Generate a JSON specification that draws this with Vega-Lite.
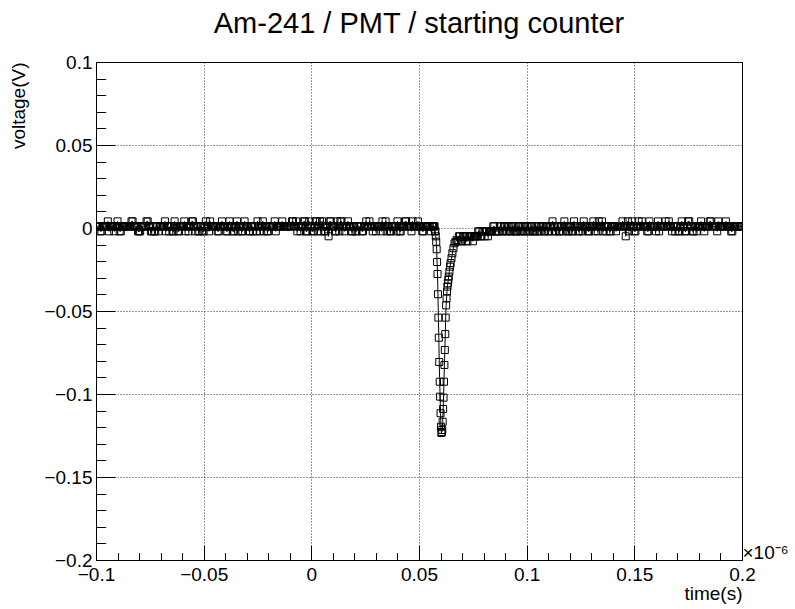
{
"$schema": "https://vega.github.io/schema/vega-lite/v6.json",
"width": 646,
"height": 498,
"autosize": {"type": "none"},
"padding": {"left": 96, "top": 62, "right": 53, "bottom": 49},
"background": "white",
"title": {"text": "Am-241 / PMT / starting counter", "font": "Liberation Sans", "fontSize": 29, "fontWeight": "normal", "color": "#000", "anchor": "middle", "baseline": "alphabetic", "offset": 25, "dy": 34},
"config": {"view": {"stroke": "#000", "strokeWidth": 1}, "axis": {"tickColor": "#000", "labelColor": "#000", "titleColor": "#000", "labelFont": "Liberation Sans", "titleFont": "Liberation Sans", "labelFontSize": 19, "titleFontSize": 19, "titleFontWeight": "normal", "labelOverlap": false, "labelFlush": false, "labelBound": false}},
"data": {"values": [
{"t":-0.1,"v":0.001},{"t":-0.099,"v":0.001},{"t":-0.098,"v":-0.002},{"t":-0.097,"v":0.001},{"t":-0.096,"v":0.001},{"t":-0.095,"v":0.001},{"t":-0.094,"v":-0.002},{"t":-0.093,"v":0.001},{"t":-0.092,"v":0.001},{"t":-0.091,"v":0.001},
{"t":-0.09,"v":0.004},{"t":-0.089,"v":-0.002},{"t":-0.088,"v":0.001},{"t":-0.087,"v":0.001},{"t":-0.086,"v":0.001},{"t":-0.085,"v":0.001},{"t":-0.084,"v":0.001},{"t":-0.083,"v":0.004},{"t":-0.082,"v":0.001},{"t":-0.081,"v":0.001},
{"t":-0.08,"v":-0.002},{"t":-0.079,"v":0.001},{"t":-0.078,"v":0.001},{"t":-0.077,"v":0.001},{"t":-0.076,"v":0.004},{"t":-0.075,"v":0.001},{"t":-0.074,"v":-0.002},{"t":-0.073,"v":-0.002},{"t":-0.072,"v":0.001},{"t":-0.071,"v":-0.002},
{"t":-0.07,"v":0.001},{"t":-0.069,"v":0.001},{"t":-0.068,"v":0.004},{"t":-0.067,"v":0.001},{"t":-0.066,"v":-0.002},{"t":-0.065,"v":0.001},{"t":-0.064,"v":-0.002},{"t":-0.063,"v":0.001},{"t":-0.062,"v":-0.002},{"t":-0.061,"v":0.001},
{"t":-0.06,"v":0.001},{"t":-0.059,"v":0.004},{"t":-0.058,"v":0.001},{"t":-0.057,"v":-0.002},{"t":-0.056,"v":0.001},{"t":-0.055,"v":0.004},{"t":-0.054,"v":-0.002},{"t":-0.053,"v":0.001},{"t":-0.052,"v":-0.002},{"t":-0.051,"v":0.001},
{"t":-0.05,"v":-0.002},{"t":-0.049,"v":0.004},{"t":-0.048,"v":0.001},{"t":-0.047,"v":0.004},{"t":-0.046,"v":0.001},{"t":-0.045,"v":0.001},{"t":-0.044,"v":0.001},{"t":-0.043,"v":-0.002},{"t":-0.042,"v":0.001},{"t":-0.041,"v":0.001},
{"t":-0.04,"v":0.001},{"t":-0.039,"v":-0.002},{"t":-0.038,"v":0.004},{"t":-0.037,"v":0.001},{"t":-0.036,"v":-0.002},{"t":-0.035,"v":0.001},{"t":-0.034,"v":-0.002},{"t":-0.033,"v":0.001},{"t":-0.032,"v":-0.002},{"t":-0.031,"v":0.004},
{"t":-0.03,"v":0.001},{"t":-0.029,"v":-0.002},{"t":-0.028,"v":0.001},{"t":-0.027,"v":-0.002},{"t":-0.026,"v":0.001},{"t":-0.025,"v":0.004},{"t":-0.024,"v":-0.002},{"t":-0.023,"v":0.001},{"t":-0.022,"v":-0.002},{"t":-0.021,"v":0.001},
{"t":-0.02,"v":-0.002},{"t":-0.019,"v":0.001},{"t":-0.018,"v":0.001},{"t":-0.017,"v":0.004},{"t":-0.016,"v":0.001},{"t":-0.015,"v":0.001},{"t":-0.014,"v":0.001},{"t":-0.013,"v":0.001},{"t":-0.012,"v":0.001},{"t":-0.011,"v":0.001},
{"t":-0.01,"v":0.001},{"t":-0.009,"v":0.004},{"t":-0.008,"v":0.001},{"t":-0.007,"v":0.004},{"t":-0.006,"v":0.001},{"t":-0.005,"v":-0.002},{"t":-0.004,"v":0.001},{"t":-0.003,"v":0.004},{"t":-0.002,"v":-0.002},{"t":-0.001,"v":0.004},
{"t":0,"v":0.001},{"t":0.001,"v":-0.002},{"t":0.002,"v":0.004},{"t":0.003,"v":-0.002},{"t":0.004,"v":0.004},{"t":0.005,"v":0.004},{"t":0.006,"v":-0.002},{"t":0.007,"v":0.001},{"t":0.008,"v":-0.005},{"t":0.009,"v":0.004},
{"t":0.01,"v":0.001},{"t":0.011,"v":-0.002},{"t":0.012,"v":0.004},{"t":0.013,"v":-0.002},{"t":0.014,"v":0.004},{"t":0.015,"v":0.001},{"t":0.016,"v":0.001},{"t":0.017,"v":0.004},{"t":0.018,"v":0.001},{"t":0.019,"v":-0.002},
{"t":0.02,"v":0.001},{"t":0.021,"v":-0.002},{"t":0.022,"v":0.001},{"t":0.023,"v":0.001},{"t":0.024,"v":-0.002},{"t":0.025,"v":0.001},{"t":0.026,"v":0.001},{"t":0.027,"v":0.004},{"t":0.028,"v":0.001},{"t":0.029,"v":0.001},
{"t":0.03,"v":-0.002},{"t":0.031,"v":0.001},{"t":0.032,"v":0.001},{"t":0.033,"v":0.004},{"t":0.034,"v":0.001},{"t":0.035,"v":-0.002},{"t":0.036,"v":0.001},{"t":0.037,"v":-0.002},{"t":0.038,"v":0.001},{"t":0.039,"v":0.001},
{"t":0.04,"v":0.004},{"t":0.041,"v":-0.002},{"t":0.042,"v":0.001},{"t":0.043,"v":0.001},{"t":0.044,"v":0.004},{"t":0.045,"v":0.001},{"t":0.046,"v":0.001},{"t":0.047,"v":0.004},{"t":0.048,"v":0.001},{"t":0.049,"v":0.001},
{"t":0.05,"v":0.001},{"t":0.051,"v":0.001},{"t":0.052,"v":-0.002},{"t":0.053,"v":0.001},{"t":0.054,"v":0.001},{"t":0.055,"v":0.001},{"t":0.056,"v":0.001},
{"t":-0.0995,"v":0.001},{"t":-0.0985,"v":0.001},{"t":-0.0975,"v":-0.002},{"t":-0.0965,"v":0.001},{"t":-0.0955,"v":0.001},{"t":-0.0945,"v":0.004},{"t":-0.0935,"v":0.001},{"t":-0.0925,"v":0.001},{"t":-0.0915,"v":-0.002},{"t":-0.0905,"v":0.001},
{"t":-0.0895,"v":0.001},{"t":-0.0885,"v":-0.002},{"t":-0.0875,"v":0.001},{"t":-0.0865,"v":0.001},{"t":-0.0855,"v":0.001},{"t":-0.0845,"v":0.001},{"t":-0.0835,"v":0.004},{"t":-0.0825,"v":0.001},{"t":-0.0815,"v":0.001},{"t":-0.0805,"v":-0.002},
{"t":-0.0795,"v":-0.002},{"t":-0.0785,"v":0.001},{"t":-0.0775,"v":0.001},{"t":-0.0765,"v":0.004},{"t":-0.0755,"v":0.001},{"t":-0.0745,"v":-0.002},{"t":-0.0735,"v":0.001},{"t":-0.0725,"v":-0.002},{"t":-0.0715,"v":0.001},{"t":-0.0705,"v":0.001},
{"t":-0.0695,"v":0.001},{"t":-0.0685,"v":0.001},{"t":-0.0675,"v":-0.002},{"t":-0.0665,"v":0.001},{"t":-0.0655,"v":0.001},{"t":-0.0645,"v":-0.002},{"t":-0.0635,"v":0.004},{"t":-0.0625,"v":0.001},{"t":-0.0615,"v":-0.002},{"t":-0.0605,"v":0.001},
{"t":-0.0595,"v":0.001},{"t":-0.0585,"v":-0.002},{"t":-0.0575,"v":0.001},{"t":-0.0565,"v":0.001},{"t":-0.0555,"v":0.004},{"t":-0.0545,"v":0.001},{"t":-0.0535,"v":0.001},{"t":-0.0525,"v":-0.002},{"t":-0.0515,"v":0.001},{"t":-0.0505,"v":-0.002},
{"t":-0.0495,"v":0.001},{"t":-0.0485,"v":0.001},{"t":-0.0475,"v":-0.002},{"t":-0.0465,"v":0.001},{"t":-0.0455,"v":0.001},{"t":-0.0445,"v":0.001},{"t":-0.0435,"v":-0.002},{"t":-0.0425,"v":0.001},{"t":-0.0415,"v":0.004},{"t":-0.0405,"v":0.001},
{"t":-0.0395,"v":-0.002},{"t":-0.0385,"v":0.001},{"t":-0.0375,"v":0.001},{"t":-0.0365,"v":-0.002},{"t":-0.0355,"v":0.001},{"t":-0.0345,"v":0.004},{"t":-0.0335,"v":0.001},{"t":-0.0325,"v":-0.002},{"t":-0.0315,"v":0.001},{"t":-0.0305,"v":0.001},
{"t":-0.0295,"v":0.001},{"t":-0.0285,"v":-0.002},{"t":-0.0275,"v":0.001},{"t":-0.0265,"v":0.001},{"t":-0.0255,"v":-0.002},{"t":-0.0245,"v":0.001},{"t":-0.0235,"v":0.001},{"t":-0.0225,"v":0.004},{"t":-0.0215,"v":0.001},{"t":-0.0205,"v":-0.002},
{"t":-0.0195,"v":0.001},{"t":-0.0185,"v":0.001},{"t":-0.0175,"v":0.001},{"t":-0.0165,"v":-0.002},{"t":-0.0155,"v":0.001},{"t":-0.0145,"v":0.001},{"t":-0.0135,"v":0.004},{"t":-0.0125,"v":0.001},{"t":-0.0115,"v":0.001},{"t":-0.0105,"v":0.001},
{"t":-0.0095,"v":0.001},{"t":-0.0085,"v":0.004},{"t":-0.0075,"v":0.001},{"t":-0.0065,"v":-0.002},{"t":-0.0055,"v":0.001},{"t":-0.0045,"v":0.001},{"t":-0.0035,"v":0.004},{"t":-0.0025,"v":-0.002},{"t":-0.0015,"v":0.001},{"t":-0.0005,"v":0.001},
{"t":0.0005,"v":-0.002},{"t":0.0015,"v":0.001},{"t":0.0025,"v":0.004},{"t":0.0035,"v":0.001},{"t":0.0045,"v":-0.002},{"t":0.0055,"v":0.001},{"t":0.0065,"v":-0.002},{"t":0.0075,"v":0.001},{"t":0.0085,"v":0.004},{"t":0.0095,"v":0.001},
{"t":0.0105,"v":0.001},{"t":0.0115,"v":-0.002},{"t":0.0125,"v":0.001},{"t":0.0135,"v":0.004},{"t":0.0145,"v":0.001},{"t":0.0155,"v":-0.002},{"t":0.0165,"v":0.001},{"t":0.0175,"v":0.001},{"t":0.0185,"v":-0.002},{"t":0.0195,"v":0.001},
{"t":0.0205,"v":-0.002},{"t":0.0215,"v":0.001},{"t":0.0225,"v":0.001},{"t":0.0235,"v":-0.002},{"t":0.0245,"v":0.001},{"t":0.0255,"v":0.004},{"t":0.0265,"v":0.001},{"t":0.0275,"v":0.001},{"t":0.0285,"v":-0.002},{"t":0.0295,"v":0.001},
{"t":0.0305,"v":0.001},{"t":0.0315,"v":0.001},{"t":0.0325,"v":-0.002},{"t":0.0335,"v":0.001},{"t":0.0345,"v":0.004},{"t":0.0355,"v":0.001},{"t":0.0365,"v":-0.002},{"t":0.0375,"v":0.001},{"t":0.0385,"v":0.001},{"t":0.0395,"v":-0.002},
{"t":0.0405,"v":0.001},{"t":0.0415,"v":-0.002},{"t":0.0425,"v":0.001},{"t":0.0435,"v":0.004},{"t":0.0445,"v":0.001},{"t":0.0455,"v":0.001},{"t":0.0465,"v":-0.002},{"t":0.0475,"v":0.001},{"t":0.0485,"v":0.001},{"t":0.0495,"v":0.004},
{"t":0.0505,"v":0.001},{"t":0.0515,"v":-0.002},{"t":0.0525,"v":0.001},{"t":0.0535,"v":0.001},{"t":0.0545,"v":0.001},{"t":0.0555,"v":-0.002},{"t":0.0565,"v":0.001},
{"t":0.057,"v":0.001},{"t":0.0572,"v":0.001},{"t":0.0574,"v":-0.002},{"t":0.0576,"v":-0.002},{"t":0.0578,"v":-0.005},{"t":0.058,"v":-0.0083},{"t":0.0582,"v":-0.0128},{"t":0.0584,"v":-0.0205},{"t":0.0586,"v":-0.0277},{"t":0.0588,"v":-0.0399},
{"t":0.059,"v":-0.054},{"t":0.0592,"v":-0.0661},{"t":0.0594,"v":-0.0807},{"t":0.0596,"v":-0.0926},{"t":0.0598,"v":-0.1016},{"t":0.06,"v":-0.1116},{"t":0.0602,"v":-0.1197},{"t":0.0604,"v":-0.1235},{"t":0.0606,"v":-0.1229},{"t":0.0608,"v":-0.1217},
{"t":0.061,"v":-0.1167},{"t":0.0612,"v":-0.109},{"t":0.0614,"v":-0.1022},{"t":0.0616,"v":-0.0926},{"t":0.0618,"v":-0.0825},{"t":0.062,"v":-0.0735},{"t":0.0622,"v":-0.0639},{"t":0.0624,"v":-0.054},{"t":0.0626,"v":-0.0466},{"t":0.0628,"v":-0.0423},
{"t":0.063,"v":-0.0383},{"t":0.0632,"v":-0.0353},{"t":0.0634,"v":-0.0333},{"t":0.0636,"v":-0.0313},{"t":0.0638,"v":-0.0293},{"t":0.0641,"v":-0.0263},{"t":0.0644,"v":-0.0233},{"t":0.0647,"v":-0.0211},{"t":0.0651,"v":-0.0182},{"t":0.0655,"v":-0.0152},
{"t":0.066,"v":-0.0122},{"t":0.0665,"v":-0.0092},{"t":0.067,"v":-0.0083},{"t":0.0675,"v":-0.0072},
{"t":0.068,"v":-0.008},{"t":0.069,"v":-0.005},{"t":0.07,"v":-0.008},{"t":0.071,"v":-0.005},{"t":0.072,"v":-0.008},{"t":0.073,"v":-0.005},{"t":0.074,"v":-0.005},{"t":0.075,"v":-0.008},{"t":0.076,"v":-0.005},{"t":0.077,"v":-0.005},
{"t":0.078,"v":-0.002},{"t":0.079,"v":-0.005},{"t":0.08,"v":-0.002},{"t":0.081,"v":-0.002},{"t":0.082,"v":-0.005},{"t":0.083,"v":-0.002},{"t":0.084,"v":-0.002},{"t":0.085,"v":0.001},{"t":0.086,"v":-0.002},{"t":0.087,"v":-0.002},
{"t":0.088,"v":0.001},{"t":0.089,"v":-0.002},{"t":0.09,"v":0.001},
{"t":0.0685,"v":-0.005},{"t":0.0695,"v":-0.008},{"t":0.0705,"v":-0.005},{"t":0.0715,"v":-0.005},{"t":0.0725,"v":-0.008},{"t":0.0735,"v":-0.005},{"t":0.0745,"v":-0.005},{"t":0.0755,"v":-0.005},{"t":0.0765,"v":-0.005},{"t":0.0775,"v":-0.002},
{"t":0.0785,"v":-0.005},{"t":0.0795,"v":-0.002},{"t":0.0805,"v":-0.005},{"t":0.0815,"v":-0.002},{"t":0.0825,"v":-0.002},{"t":0.0835,"v":-0.002},{"t":0.0845,"v":0.001},{"t":0.0855,"v":-0.002},{"t":0.0865,"v":-0.002},{"t":0.0875,"v":0.001},
{"t":0.0885,"v":-0.002},{"t":0.0895,"v":0.001},
{"t":0.091,"v":-0.002},{"t":0.092,"v":0.001},{"t":0.093,"v":-0.002},{"t":0.094,"v":0.001},{"t":0.095,"v":-0.002},{"t":0.096,"v":0.001},{"t":0.097,"v":-0.002},{"t":0.098,"v":0.001},{"t":0.099,"v":-0.002},{"t":0.1,"v":0.001},
{"t":0.101,"v":-0.002},{"t":0.102,"v":0.001},{"t":0.103,"v":-0.002},{"t":0.104,"v":-0.002},{"t":0.105,"v":0.001},{"t":0.106,"v":-0.002},{"t":0.107,"v":0.001},{"t":0.108,"v":-0.002},{"t":0.109,"v":0.001},{"t":0.11,"v":-0.002},
{"t":0.111,"v":0.001},{"t":0.112,"v":0.004},{"t":0.113,"v":-0.002},{"t":0.114,"v":0.001},{"t":0.115,"v":-0.002},{"t":0.116,"v":0.001},{"t":0.117,"v":-0.002},{"t":0.118,"v":0.001},{"t":0.119,"v":-0.002},{"t":0.12,"v":0.001},
{"t":0.121,"v":-0.002},{"t":0.122,"v":0.004},{"t":0.123,"v":0.001},{"t":0.124,"v":-0.002},{"t":0.125,"v":0.001},{"t":0.126,"v":-0.002},{"t":0.127,"v":0.001},{"t":0.128,"v":0.001},{"t":0.129,"v":-0.002},{"t":0.13,"v":0.001},
{"t":0.131,"v":0.004},{"t":0.132,"v":0.001},{"t":0.133,"v":-0.002},{"t":0.134,"v":0.001},{"t":0.135,"v":0.004},{"t":0.136,"v":0.001},{"t":0.137,"v":-0.002},{"t":0.138,"v":0.001},{"t":0.139,"v":-0.002},{"t":0.14,"v":0.001},
{"t":0.141,"v":0.001},{"t":0.142,"v":0.001},{"t":0.143,"v":0.001},{"t":0.144,"v":0.001},{"t":0.145,"v":0.001},{"t":0.146,"v":-0.005},{"t":0.147,"v":0.004},{"t":0.148,"v":0.001},{"t":0.149,"v":0.004},{"t":0.15,"v":-0.002},
{"t":0.151,"v":0.001},{"t":0.152,"v":0.004},{"t":0.153,"v":0.001},{"t":0.154,"v":0.001},{"t":0.155,"v":0.001},{"t":0.156,"v":-0.002},{"t":0.157,"v":0.004},{"t":0.158,"v":0.001},{"t":0.159,"v":0.001},{"t":0.16,"v":-0.002},
{"t":0.161,"v":0.004},{"t":0.162,"v":0.001},{"t":0.163,"v":0.001},{"t":0.164,"v":0.001},{"t":0.165,"v":0.001},{"t":0.166,"v":0.004},{"t":0.167,"v":0.001},{"t":0.168,"v":0.001},{"t":0.169,"v":-0.002},{"t":0.17,"v":0.001},
{"t":0.171,"v":-0.002},{"t":0.172,"v":0.004},{"t":0.173,"v":0.001},{"t":0.174,"v":-0.002},{"t":0.175,"v":0.004},{"t":0.176,"v":0.001},{"t":0.177,"v":-0.002},{"t":0.178,"v":0.001},{"t":0.179,"v":-0.002},{"t":0.18,"v":0.001},
{"t":0.181,"v":0.004},{"t":0.182,"v":0.001},{"t":0.183,"v":0.001},{"t":0.184,"v":0.001},{"t":0.185,"v":0.004},{"t":0.186,"v":0.001},{"t":0.187,"v":0.001},{"t":0.188,"v":0.001},{"t":0.189,"v":0.004},{"t":0.19,"v":0.001},
{"t":0.191,"v":0.001},{"t":0.192,"v":0.001},{"t":0.193,"v":0.001},{"t":0.194,"v":0.001},{"t":0.195,"v":-0.002},{"t":0.196,"v":0.001},{"t":0.197,"v":0.001},{"t":0.198,"v":0.001},{"t":0.199,"v":0.001},{"t":0.2,"v":0.001},
{"t":0.0905,"v":-0.002},{"t":0.0915,"v":0.001},{"t":0.0925,"v":-0.002},{"t":0.0935,"v":0.001},{"t":0.0945,"v":-0.002},{"t":0.0955,"v":-0.002},{"t":0.0965,"v":0.001},{"t":0.0975,"v":-0.002},{"t":0.0985,"v":0.001},{"t":0.0995,"v":-0.002},
{"t":0.1005,"v":0.001},{"t":0.1015,"v":-0.002},{"t":0.1025,"v":0.001},{"t":0.1035,"v":-0.002},{"t":0.1045,"v":0.001},{"t":0.1055,"v":-0.002},{"t":0.1065,"v":0.001},{"t":0.1075,"v":0.001},{"t":0.1085,"v":-0.002},{"t":0.1095,"v":0.001},
{"t":0.1105,"v":-0.002},{"t":0.1115,"v":0.001},{"t":0.1125,"v":0.001},{"t":0.1135,"v":-0.002},{"t":0.1145,"v":0.001},{"t":0.1155,"v":-0.002},{"t":0.1165,"v":0.001},{"t":0.1175,"v":0.004},{"t":0.1185,"v":0.001},{"t":0.1195,"v":-0.002},
{"t":0.1205,"v":0.001},{"t":0.1215,"v":-0.002},{"t":0.1225,"v":0.001},{"t":0.1235,"v":0.001},{"t":0.1245,"v":-0.002},{"t":0.1255,"v":0.001},{"t":0.1265,"v":0.004},{"t":0.1275,"v":0.001},{"t":0.1285,"v":-0.002},{"t":0.1295,"v":0.001},
{"t":0.1305,"v":0.001},{"t":0.1315,"v":-0.002},{"t":0.1325,"v":0.001},{"t":0.1335,"v":0.004},{"t":0.1345,"v":0.001},{"t":0.1355,"v":-0.002},{"t":0.1365,"v":0.001},{"t":0.1375,"v":0.001},{"t":0.1385,"v":-0.002},{"t":0.1395,"v":0.001},
{"t":0.1405,"v":0.001},{"t":0.1415,"v":-0.002},{"t":0.1425,"v":0.001},{"t":0.1435,"v":0.001},{"t":0.1445,"v":0.004},{"t":0.1455,"v":0.001},{"t":0.1465,"v":0.001},{"t":0.1475,"v":-0.002},{"t":0.1485,"v":0.001},{"t":0.1495,"v":0.001},
{"t":0.1505,"v":-0.002},{"t":0.1515,"v":0.001},{"t":0.1525,"v":0.001},{"t":0.1535,"v":0.004},{"t":0.1545,"v":0.001},{"t":0.1555,"v":0.001},{"t":0.1565,"v":-0.002},{"t":0.1575,"v":0.001},{"t":0.1585,"v":0.001},{"t":0.1595,"v":0.001},
{"t":0.1605,"v":0.001},{"t":0.1615,"v":-0.002},{"t":0.1625,"v":0.001},{"t":0.1635,"v":0.001},{"t":0.1645,"v":0.004},{"t":0.1655,"v":0.001},{"t":0.1665,"v":0.001},{"t":0.1675,"v":-0.002},{"t":0.1685,"v":0.001},{"t":0.1695,"v":0.001},
{"t":0.1705,"v":-0.002},{"t":0.1715,"v":0.001},{"t":0.1725,"v":0.001},{"t":0.1735,"v":-0.002},{"t":0.1745,"v":0.001},{"t":0.1755,"v":0.004},{"t":0.1765,"v":0.001},{"t":0.1775,"v":-0.002},{"t":0.1785,"v":0.001},{"t":0.1795,"v":0.001},
{"t":0.1805,"v":0.001},{"t":0.1815,"v":0.001},{"t":0.1825,"v":-0.002},{"t":0.1835,"v":0.001},{"t":0.1845,"v":0.001},{"t":0.1855,"v":0.004},{"t":0.1865,"v":0.001},{"t":0.1875,"v":0.001},{"t":0.1885,"v":-0.002},{"t":0.1895,"v":0.001},
{"t":0.1905,"v":0.001},{"t":0.1915,"v":0.001},{"t":0.1925,"v":0.004},{"t":0.1935,"v":0.001},{"t":0.1945,"v":0.001},{"t":0.1955,"v":-0.002},{"t":0.1965,"v":0.001},{"t":0.1975,"v":0.001},{"t":0.1985,"v":0.001},{"t":0.1995,"v":0.001}
]},
"layer": [
{"mark": {"type": "line", "color": "#000", "strokeWidth": 1, "clip": true},
 "encoding": {
  "x": {"field": "t", "type": "quantitative", "scale": {"domain": [-0.1, 0.2], "nice": false, "zero": false},
   "axis": {"orient": "bottom", "values": [-0.1, -0.05, 0, 0.05, 0.1, 0.15, 0.2], "format": "~g", "grid": true, "gridColor": "#000", "gridDash": [1, 2], "gridWidth": 1, "gridOpacity": 0.8, "domain": false, "tickSize": -15, "labelPadding": 20,
    "title": "time(s)", "titleAnchor": "end", "titleAlign": "right", "titleX": 646, "titleY": 39, "titleBaseline": "alphabetic"}},
  "y": {"field": "v", "type": "quantitative", "scale": {"domain": [-0.2, 0.1], "nice": false, "zero": false},
   "axis": {"orient": "left", "values": [-0.2, -0.15, -0.1, -0.05, 0, 0.05, 0.1], "format": "~g", "grid": true, "gridColor": "#000", "gridDash": [1, 2], "gridWidth": 1, "gridOpacity": 0.8, "domain": false, "tickSize": -19, "labelPadding": 23,
    "title": "voltage(V)", "titleAngle": -90, "titleAnchor": "end", "titleAlign": "right", "titleX": -72, "titleY": 0, "titleBaseline": "alphabetic"}}
 }},
{"mark": {"type": "point", "shape": "square", "filled": false, "size": 49, "color": "#000", "strokeWidth": 1, "opacity": 1, "clip": true},
 "encoding": {
  "x": {"field": "t", "type": "quantitative", "scale": {"domain": [-0.1, 0.2], "nice": false, "zero": false},
   "axis": {"orient": "bottom", "values": [-0.09, -0.08, -0.07, -0.06, -0.04, -0.03, -0.02, -0.01, 0.01, 0.02, 0.03, 0.04, 0.06, 0.07, 0.08, 0.09, 0.11, 0.12, 0.13, 0.14, 0.16, 0.17, 0.18, 0.19], "labels": false, "grid": false, "domain": false, "tickSize": -7.5,
    "title": "×10⁻⁶", "titleAngle": 0, "titleAnchor": "end", "titleAlign": "left", "titleX": 646, "titleY": -8, "titleBaseline": "middle"}},
  "y": {"field": "v", "type": "quantitative", "scale": {"domain": [-0.2, 0.1], "nice": false, "zero": false},
   "axis": {"orient": "left", "values": [-0.19, -0.18, -0.17, -0.16, -0.14, -0.13, -0.12, -0.11, -0.09, -0.08, -0.07, -0.06, -0.04, -0.03, -0.02, -0.01, 0.01, 0.02, 0.03, 0.04, 0.06, 0.07, 0.08, 0.09], "labels": false, "grid": false, "domain": false, "tickSize": -9.7, "title": null}}
 }}
],
"resolve": {"axis": {"x": "independent", "y": "independent"}}
}
